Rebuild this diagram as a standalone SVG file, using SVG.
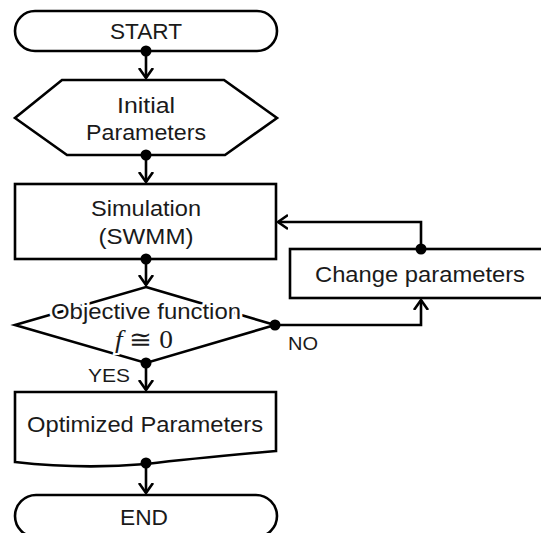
<svg xmlns="http://www.w3.org/2000/svg" width="541" height="533" viewBox="0 0 541 533">
<style>
.shape{fill:#fff;stroke:#000;stroke-width:2.6}
.t{font-family:"Liberation Sans",Arial,sans-serif;font-size:22px;fill:#1a1a1a;text-anchor:middle}
.lbl{font-family:"Liberation Sans",Arial,sans-serif;font-size:19px;fill:#1a1a1a}
.c{fill:none;stroke:#000;stroke-width:2.6}
.dot{fill:#000}
</style>
<defs>
<marker id="arr" markerWidth="20" markerHeight="20" viewBox="-10 -10 20 20" refX="0" refY="0" orient="auto" markerUnits="userSpaceOnUse">
<path d="M-10,-7 L0,0 L-10,7" fill="none" stroke="#000" stroke-width="2.6"/>
</marker>
</defs>
<rect width="541" height="533" fill="#fff"/>
<g id="start">
<rect class="shape" x="15" y="11" width="262" height="40" rx="20" ry="20"/>
<text class="t" x="146" y="39" textLength="72" lengthAdjust="spacingAndGlyphs">START</text>
</g>
<g id="initial">
<polygon class="shape" points="62,80 224,80 277,118 225,155 67,155 15,118"/>
<text class="t" x="146" y="113" textLength="58" lengthAdjust="spacingAndGlyphs">Initial</text>
<text class="t" x="146" y="140" textLength="120" lengthAdjust="spacingAndGlyphs">Parameters</text>
</g>
<g id="simulation">
<rect class="shape" x="15" y="184" width="261" height="75"/>
<text class="t" x="146" y="216" textLength="110" lengthAdjust="spacingAndGlyphs">Simulation</text>
<text class="t" x="146" y="244" textLength="95" lengthAdjust="spacingAndGlyphs">(SWMM)</text>
</g>
<g id="objective">
<polygon class="shape" points="146,287 275,325 146,363 15,325"/>
<text class="t" x="146" y="319" textLength="190" lengthAdjust="spacingAndGlyphs" stroke="#fff" stroke-width="5" paint-order="stroke">Objective function</text>
<text x="144" y="348" text-anchor="middle" font-family="'Liberation Serif','DejaVu Serif',serif" font-size="25" fill="#1a1a1a" stroke="#fff" stroke-width="4" paint-order="stroke" textLength="58" lengthAdjust="spacingAndGlyphs"><tspan font-style="italic">f</tspan> ≅ 0</text>
</g>
<g id="change">
<rect class="shape" x="290" y="249" width="260" height="49"/>
<text class="t" x="420" y="282" textLength="210" lengthAdjust="spacingAndGlyphs">Change parameters</text>
</g>
<g id="optimized">
<path class="shape" d="M15,392 H276 V451 C220,456 180,460 146,464 C100,468 50,466 15,462 Z"/>
<text class="t" x="145" y="432" textLength="236" lengthAdjust="spacingAndGlyphs">Optimized Parameters</text>
</g>
<g id="end">
<rect class="shape" x="15" y="495" width="262" height="42" rx="21" ry="21"/>
<text class="t" x="144" y="525" textLength="48" lengthAdjust="spacingAndGlyphs">END</text>
</g>
<g id="connectors">
<path class="c" d="M146,51 V78" marker-end="url(#arr)"/>
<path class="c" d="M146,155 V182" marker-end="url(#arr)"/>
<path class="c" d="M146,259 V285" marker-end="url(#arr)"/>
<path class="c" d="M146,363 V390" marker-end="url(#arr)"/>
<path class="c" d="M146,463 V493" marker-end="url(#arr)"/>
<path class="c" d="M275,325 H421 V300" marker-end="url(#arr)"/>
<path class="c" d="M421,249 V222 H278" marker-end="url(#arr)"/>
<circle class="dot" cx="146" cy="51" r="5.5"/>
<circle class="dot" cx="146" cy="155" r="5.5"/>
<circle class="dot" cx="146" cy="259" r="5.5"/>
<circle class="dot" cx="146" cy="363" r="5.5"/>
<circle class="dot" cx="146" cy="463" r="5.5"/>
<circle class="dot" cx="275" cy="325" r="5.5"/>
<circle class="dot" cx="421" cy="249" r="5.5"/>
<text class="lbl" x="288" y="350" textLength="30" lengthAdjust="spacingAndGlyphs">NO</text>
<text class="lbl" x="88" y="382" textLength="42" lengthAdjust="spacingAndGlyphs">YES</text>
</g>
</svg>
